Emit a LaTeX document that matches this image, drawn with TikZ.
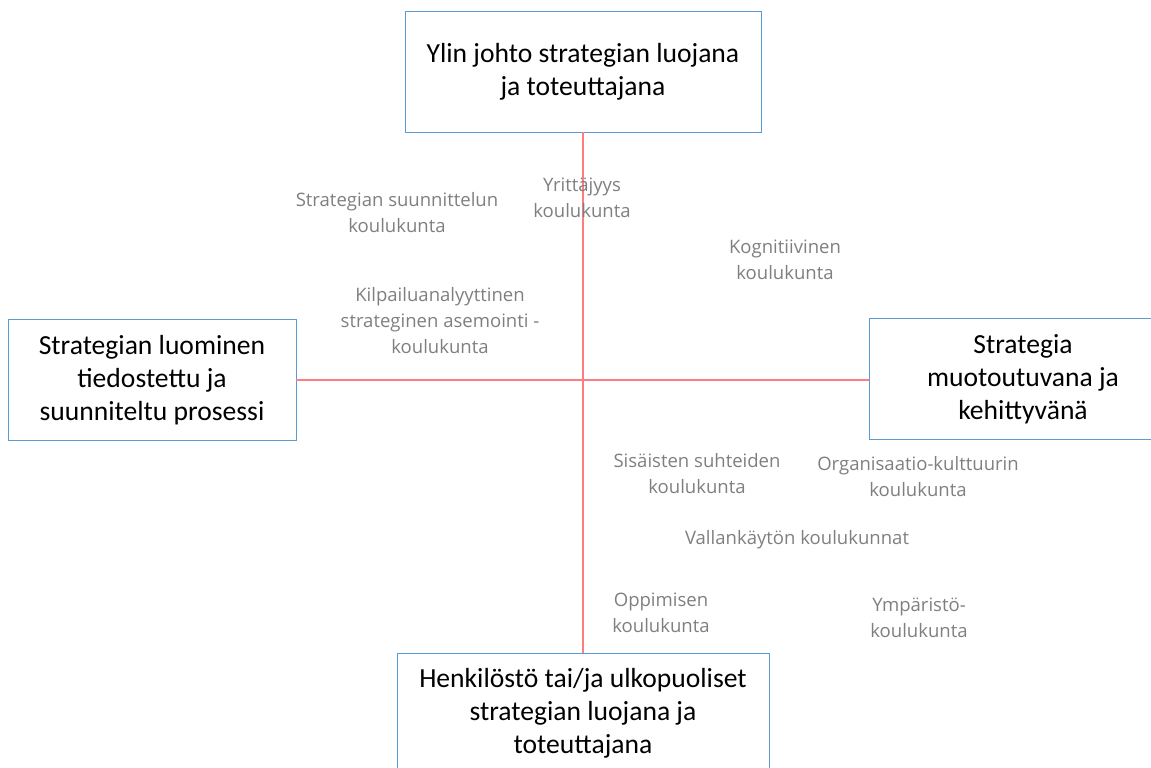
\documentclass[tikz,border=0pt]{standalone}
\usepackage{fontspec}
\setmainfont{Carlito}
\newfontfamily\schoolfont{Open Sans}
\usepackage{xcolor}
\usetikzlibrary{positioning}

\definecolor{boxblue}{HTML}{5B9BD5}
\definecolor{axisred}{HTML}{FF7C80}
\definecolor{schoolgrey}{HTML}{7F7F7F}

\begin{document}
\begin{tikzpicture}[x=0.75pt,y=-0.75pt]
		\tikzstyle{corner} = [draw=boxblue, thin, align=center, inner sep=0pt, font=\fontsize{20.7}{24.6}\selectfont]
		\tikzstyle{axis} = [draw=axisred, line width=1.5pt]
		\tikzstyle{school} = [text=schoolgrey, align=center, inner sep=0pt, font=\schoolfont\fontsize{13.9}{19.5}\selectfont]

		\useasboundingbox (0,0) rectangle (1151,767);

		\node[corner, minimum width=267pt, minimum height=90.75pt] (TopManagement) at (583,71.5) {Ylin johto strategian luojana\\ja toteuttajana};
		\node[corner, minimum width=216pt, minimum height=90.75pt] (Deliberate) at (152,380) {Strategian luominen\\tiedostettu ja\\suunniteltu prosessi};
		\node[corner, minimum width=231pt, minimum height=90.75pt] (Emergent) at (1023,379) {Strategia\\muotoutuvana ja\\kehittyvänä};
		\node[corner, minimum width=279pt, minimum height=90.75pt] (Staff) at (583,713.5) {Henkilöstö tai/ja ulkopuoliset\\strategian luojana ja\\toteuttajana};

		\draw[axis] (TopManagement) -- (Staff);
		\draw[axis] (Deliberate) -- (Deliberate -| Emergent.west);

		\node[school] (Design) at (397,213) {Strategian suunnittelun\\koulukunta};
		\node[school] (Entrepreneur) at (582,198) {Yrittäjyys\\koulukunta};
		\node[school] (Cognitive) at (785,260) {Kognitiivinen\\koulukunta};
		\node[school] (Positioning) at (440,321) {Kilpailuanalyyttinen\\strateginen asemointi -\\koulukunta};
		\node[school] (Relations) at (697,474) {Sisäisten suhteiden\\koulukunta};
		\node[school] (Culture) at (918,477) {Organisaatio-kulttuurin\\koulukunta};
		\node[school] (Power) at (797,540) {Vallankäytön koulukunnat};
		\node[school] (Learning) at (661,613) {Oppimisen\\koulukunta};
		\node[school] (Environment) at (919,618) {Ympäristö-\\koulukunta};

	\end{tikzpicture}
\end{document}
